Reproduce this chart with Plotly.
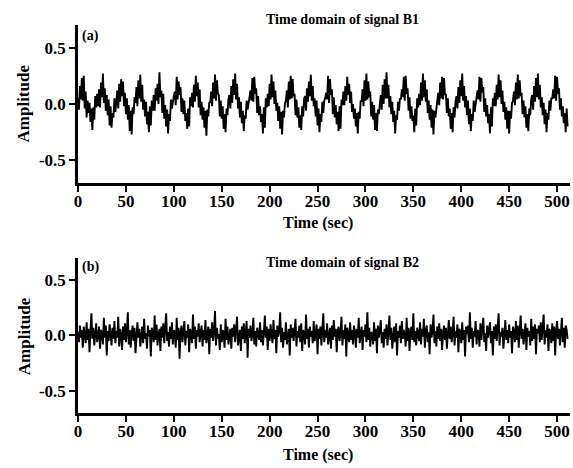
import plotly.graph_objects as go

# ---------------- data ----------------
b1_part1 = [.05,-.05,.16,.04,.23,.03,.25,-.04,.11,-.12,.03,-.08,.01,-.16,-.04,-.23,-.03,-.14,.07,-.03,
            .09,-.02,.13,-.03,.19,.06,.27,.01,.14,-.06,.08,-.10,.04,-.19,-.02,-.21,-.08,-.12,.05,-.07,
            .02,.12,-.04,.18,.02,.22,.07,.20,-.02,.10,-.09,.05,-.14,-.01,-.24,-.06,-.27,-.03,-.09,
            .06,.01,.15,-.02,.21,.05,.26,.02,.17,-.05,.04,-.11,.02,-.18,-.07,-.25,-.02,-.19,.03,-.06,
            .08,-.06,.14,.03,.18,.00,.28,.06,.12,-.08,.09,-.13,-.01,-.20,-.05,-.26,-.09,-.15,.04,-.04,
            .03,.07,.11,-.01,.24,.04,.20,.08,.15,-.07,.05,-.09,.03,-.15,-.08,-.22,-.04,-.20,.06,-.02,
            .10,-.03,.17,.02,.25,.07,.19,-.03,.13,-.10,.02,-.14,-.03,-.21,-.06,-.28,-.05,-.11,.02]
b1_part2 = [.01,.11,-.02,.19,.05,.26,.03,.21,.09,.08,-.11,.03,-.13,-.02,-.22,-.09,-.25,-.04,-.10,.04,
            .08,-.04,.16,.01,.22,.08,.27,.04,.18,-.04,.06,-.12,.02,-.17,-.06,-.24,-.10,-.13,.03,-.05,
            .04,.06,.12,.03,.23,.02,.24,.09,.14,-.08,.07,-.10,-.02,-.16,-.09,-.26,-.03,-.21,.05,-.03,
            .09,-.02,.18,.04,.26,.06,.20,.00,.12,-.06,.01,-.15,-.02,-.22,-.07,-.27,-.06,-.12,.01,
            .03,.12,-.03,.20,.04,.25,.05,.22,.07,.09,-.10,.04,-.12,-.03,-.21,-.10,-.23,-.02,-.11,.05,
            .07,-.06,.14,.02,.20,.07,.26,.03,.16,-.02,.05,-.11,.03,-.19,-.04,-.25,-.09,-.16,.02,-.08,
            .03,.05,.10,.04,.25,.01,.22,.08,.13,-.09,.06,-.12,-.01,-.18,-.07,-.24,-.02,-.22,.04,-.01]
b1_part3 = [.11,-.01,.16,.03,.24,.08,.18,.01,.11,-.07,.00,-.13,-.04,-.20,-.08,-.26,-.07,-.13,.03,
            .02,.13,-.02,.21,.03,.27,.04,.20,.06,.11,-.11,.02,-.14,-.01,-.23,-.08,-.24,-.05,-.09,.03,
            .08,-.05,.17,.00,.22,.05,.28,.05,.17,-.03,.07,-.09,.02,-.16,-.06,-.26,-.10,-.14,.02,-.06,
            .05,.04,.13,.06,.24,.03,.25,.09,.14,-.06,.06,-.13,-.02,-.15,-.10,-.25,-.04,-.19,.05,-.03,
            .09,-.01,.19,.03,.27,.06,.21,.02,.13,-.08,.03,-.14,-.01,-.21,-.05,-.27,-.06,-.12,.00,
            .03,.10,-.01,.19,.05,.24,.04,.23,.08,.09,-.08,.05,-.11,-.04,-.22,-.08,-.25,-.03,-.12,.02]
b1_part4 = [.07,-.04,.15,.01,.21,.07,.27,.03,.16,-.03,.07,-.10,.03,-.18,-.04,-.24,-.09,-.15,.03,-.07,
            .02,.06,.12,.04,.24,.02,.23,.10,.15,-.07,.05,-.11,-.01,-.17,-.09,-.26,-.03,-.20,.05,-.02,
            .10,-.02,.17,.04,.26,.06,.21,.00,.12,-.07,.02,-.14,-.03,-.22,-.06,-.26,-.06,-.13,.01,
            .03,.11,-.01,.19,.04,.26,.05,.21,.07,.10,-.09,.03,-.12,-.02,-.21,-.09,-.24,-.04,-.10,.04,
            .08,-.05,.16,.02,.23,.06,.27,.04,.17,-.03,.06,-.10,.01,-.18,-.05,-.25,-.08,-.14,.03,-.06,
            .05,.05,.13,.05,.25,.03,.24,.09,.14,-.05,.05,-.11,-.02,-.17,-.08,-.25,-.04,-.20]

b2_part1 = [.03,-.06,.09,-.02,.05,-.11,.08,.01,-.07,.12,-.04,.06,-.15,.04,.20,-.03,.07,-.09,.02,.11,-.06,-.01,.08,-.12,.05,.03,-.08,.16,-.02,.09,-.18,.04,
            -.05,.10,.02,-.09,.07,-.03,.13,-.07,.04,-.02,.17,-.10,.06,.01,-.13,.08,-.04,.11,-.06,.03,.21,-.08,.05,-.11,.02,.09,-.05,.07,-.16,.03,.12,-.02,
            .06,-.10,.04,.08,-.07,.15,-.03,.02,-.12,.09,-.01,.05,-.19,.07,.03,-.06,.18,-.04,.10,-.09,.01,.06,-.14,.08,-.02,.11,-.07,.04,.20,-.05,.03,-.10,
            .08,-.03,.12,-.08,.05,.02,-.11,.16,-.04,.07,-.21,.03,.09,-.06,.01,.13,-.09,.04,-.02,.10,-.15,.06,.02,-.07,.19,-.03,.08,-.12,.05,-.01,.11,-.06]
b2_part2 = [.03,.09,-.10,.05,-.04,.14,-.07,.02,.08,-.17,.06,-.02,.12,-.05,.04,.22,-.09,.07,-.03,.01,-.13,.10,-.06,.05,.02,-.11,.15,-.04,.08,-.08,.03,.06,
            -.12,.07,-.01,.10,-.06,.04,.17,-.09,.02,.05,-.14,.08,-.03,.11,-.07,.03,.13,-.20,.06,-.02,.09,-.05,.01,.16,-.08,.04,-.10,.07,.02,-.04,.12,-.06,
            .05,-.09,.03,.18,-.02,.08,-.13,.06,-.05,.10,.01,-.07,.14,-.03,.05,-.16,.09,-.01,.04,.21,-.06,.07,-.11,.03,-.04,.12,-.08,.02,.06,-.18,.10,-.02,
            .07,-.05,.03,.15,-.10,.04,-.02,.09,-.06,.11,-.14,.05,.02,-.08,.19,-.03,.06,-.11,.08,-.01,.04,-.07,.13,-.05,.02,.10,-.17,.06,-.03,.08,-.09,.04]
b2_part3 = [.20,-.06,.05,-.02,.11,-.08,.03,.07,-.12,.09,-.04,.14,-.01,.06,-.15,.04,.08,-.05,.02,.17,-.09,.05,-.03,.10,-.19,.07,.01,-.06,.12,-.04,.05,-.08,
            .09,.03,-.11,.06,-.02,.16,-.07,.04,.08,-.13,.05,-.01,.10,-.06,.21,-.04,.07,-.10,.03,.02,-.08,.12,-.05,.06,-.16,.09,-.02,.04,.14,-.07,.03,-.11,
            .06,-.03,.10,-.09,.05,.18,-.04,.07,-.12,.02,.08,-.06,.11,-.18,.04,-.02,.09,-.07,.13,-.03,.05,.01,-.10,.16,-.05,.07,-.14,.03,.08,-.04,.20,-.06,
            .04,-.09,.07,.02,-.05,.12,-.08,.06,-.01,.15,-.11,.04,.09,-.06,.03,-.17,.10,-.02,.05,.19,-.07,.04,-.10,.08,-.03,.11,-.05,.06,-.13,.02,.09,-.04]
b2_part4 = [.07,-.12,.05,.14,-.03,.08,-.06,.02,.17,-.09,.04,-.02,.10,-.15,.06,.03,-.07,.12,-.04,.05,-.19,.08,.01,.09,-.06,.21,-.03,.07,-.11,.04,-.01,.13,
            -.08,.05,.03,-.10,.11,-.04,.07,.16,-.06,.02,-.14,.09,-.02,.06,.12,-.07,.04,-.18,.08,-.03,.10,-.05,.05,.20,-.09,.03,-.01,.07,-.12,.06,.14,-.04,
            .05,-.07,.10,-.02,.04,-.16,.08,.03,-.06,.13,-.04,.09,-.11,.05,.18,-.03,.06,-.08,.02,.11,-.13,.07,-.01,.04,-.09,.15,-.05,.08,-.03,.10,-.17,.06,
            .02,.09,-.06,.12,-.04,.07,.19,-.08,.05,-.02,.10,-.14,.06,.03,-.07,.11,-.05,.08,-.18,.04,.13,-.03,.06,-.09,.02,.16,-.06,.07,-.11,.09,.05,-.03]

signal_b1 = b1_part1 + b1_part2 + b1_part3 + b1_part4
signal_b2 = b2_part1 + b2_part2 + b2_part3 + b2_part4
time_b1 = list(range(len(signal_b1)))
time_b2 = list(range(len(signal_b2)))

x_ticks = [0, 50, 100, 150, 200, 250, 300, 350, 400, 450, 500]
y_ticks = [-0.5, 0.0, 0.5]
y_tick_text = ["-0.5", "0.0", "0.5"]
titles = ["Time domain of signal B1", "Time domain of signal B2"]
panel_tags = ["(a)", "(b)"]
x_title = "Time (sec)"
y_title = "Amplitude"

# ---------------- figure ----------------
FONT = "Liberation Serif"
fig = go.Figure()
fig.add_trace(go.Scatter(x=time_b1, y=signal_b1, mode="lines",
                         line=dict(color="black", width=1.9), xaxis="x", yaxis="y",
                         showlegend=False, hoverinfo="skip"))
fig.add_trace(go.Scatter(x=time_b2, y=signal_b2, mode="lines",
                         line=dict(color="black", width=1.9), xaxis="x2", yaxis="y2",
                         showlegend=False, hoverinfo="skip"))

tickfont = dict(family=FONT, size=17, color="black", weight="bold")
xcommon = dict(range=[0, 513.5], tickvals=x_ticks, ticks="outside", ticklen=6, tickwidth=2,
               tickcolor="black", showline=True, linecolor="black", linewidth=2.5,
               showgrid=False, zeroline=False, tickfont=tickfont, automargin=False,
               ticklabelstandoff=-5)
ycommon = dict(range=[-0.7, 0.7], tickvals=y_ticks, ticktext=y_tick_text, ticks="outside",
               ticklen=6, tickwidth=2, tickcolor="black", showline=True, linecolor="black",
               linewidth=2.5, showgrid=False, zeroline=False, tickfont=tickfont,
               automargin=False)

fig.update_layout(
    width=573, height=468,
    margin=dict(l=78, r=3, t=25, b=55),
    paper_bgcolor="white", plot_bgcolor="white",
    xaxis=dict(xcommon, domain=[0, 1], anchor="y"),
    yaxis=dict(ycommon, domain=[0.5928, 1], anchor="x"),
    xaxis2=dict(xcommon, domain=[0, 1], anchor="y2"),
    yaxis2=dict(ycommon, domain=[0, 0.3995], anchor="x2"),
)

ann = []
for title, ty in zip(titles, [1.0129, 0.389]):
    ann.append(dict(text="<b>" + title + "</b>", xref="paper", yref="paper",
                    x=0.5386, y=ty, xanchor="center", yanchor="middle",
                    showarrow=False, font=dict(family=FONT, size=14, color="black")))
for tag, ty in zip(panel_tags, [0.9716, 0.376]):
    ann.append(dict(text="<b>" + tag + "</b>", xref="paper", yref="paper",
                    x=0.004, y=ty, xanchor="left", yanchor="middle",
                    showarrow=False, font=dict(family=FONT, size=14, color="black")))
for ty in [0.4897, -0.1082]:
    ann.append(dict(text="<b>" + x_title + "</b>", xref="paper", yref="paper",
                    x=0.4878, y=ty, xanchor="center", yanchor="middle",
                    showarrow=False, font=dict(family=FONT, size=16, color="black")))
for ty in [0.7977, 0.198]:
    ann.append(dict(text="<b>" + y_title + "</b>", xref="paper", yref="paper",
                    x=-0.1098, y=ty, xanchor="center", yanchor="middle", textangle=-90,
                    showarrow=False, font=dict(family=FONT, size=17, color="black")))
fig.update_layout(annotations=ann)

fig.write_html("out.html", config={"displayModeBar": False},
               post_script="document.body.style.margin='0';")
